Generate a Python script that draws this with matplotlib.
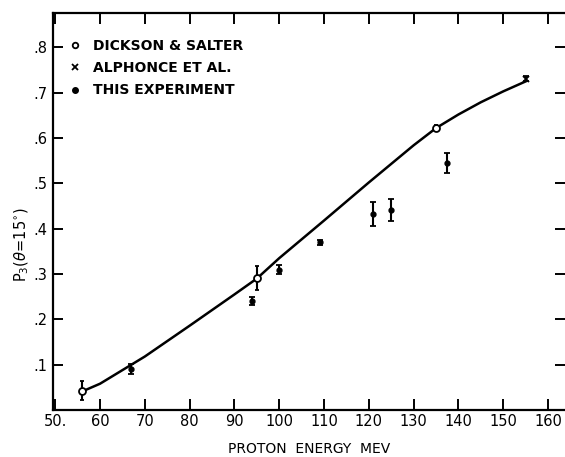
import matplotlib
matplotlib.use("Agg")
import matplotlib.pyplot as plt
from matplotlib.lines import Line2D

# ---- data ----
curve_e = [56.5, 60, 67, 70, 80, 90, 95, 100, 110, 120, 130, 135, 140, 145, 150, 155]
curve_p = [0.043, 0.058, 0.100, 0.118, 0.186, 0.255, 0.290, 0.335, 0.418, 0.502,
           0.584, 0.622, 0.652, 0.679, 0.703, 0.725]

dickson_e = [56, 95, 135]
dickson_p = [0.043, 0.291, 0.623]
dickson_err = [0.02, 0.027, 0.005]

alphonce_e = [155]
alphonce_p = [0.731]
alphonce_err = [0.006]

exp_e = [67, 94, 100, 109, 121, 125, 137.5]
exp_p = [0.090, 0.240, 0.310, 0.370, 0.433, 0.441, 0.545]
exp_err = [0.011, 0.009, 0.011, 0.006, 0.027, 0.024, 0.021]

xticks = [50, 60, 70, 80, 90, 100, 110, 120, 130, 140, 150, 160]
xticklabels = ["50.", "60", "70", "80", "90", "100", "110", "120", "130", "140", "150", "160"]
yticks = [0.1, 0.2, 0.3, 0.4, 0.5, 0.6, 0.7, 0.8]
yticklabels = [".1", ".2", ".3", ".4", ".5", ".6", ".7", ".8"]

legend_labels = ["DICKSON & SALTER", "ALPHONCE ET AL.", "THIS EXPERIMENT"]

# ---- figure ----
fig = plt.figure(figsize=(5.65, 4.57), dpi=100)
ax = fig.add_axes([53 / 565, 47 / 457, 1 - 53 / 565, 397 / 457])

ax.plot(curve_e, curve_p, color="black", lw=1.8, zorder=2)

ax.errorbar(dickson_e, dickson_p, yerr=dickson_err, fmt="o", ms=5, mfc="white",
            mec="black", mew=1.3, ecolor="black", elinewidth=1.5, capsize=1.5, zorder=3)
ax.errorbar(alphonce_e, alphonce_p, yerr=alphonce_err, fmt="x", ms=4, mec="black",
            mew=1.3, ecolor="black", elinewidth=1.5, capsize=2, zorder=3)
ax.errorbar(exp_e, exp_p, yerr=exp_err, fmt="o", ms=3.5, color="black",
            ecolor="black", elinewidth=1.5, capsize=2.2, capthick=1.3, zorder=3)

ax.set_xlim(49.5, 163.8)
ax.set_ylim(0.0, 0.876)

ax.set_xticks(xticks)
ax.set_xticklabels(xticklabels)
ax.set_yticks(yticks)
ax.set_yticklabels(yticklabels)

for s in ax.spines.values():
    s.set_linewidth(1.6)
ax.spines["right"].set_visible(False)

ax.tick_params(axis="x", direction="in", length=8, width=1.4, top=True,
               labelsize=10.5, pad=3)
ax.tick_params(axis="y", direction="in", length=7, width=1.4, right=True,
               labelsize=10.5, pad=4)

ax.set_xlabel("PROTON  ENERGY  MEV", fontsize=10, labelpad=9)
fig.text(22 / 565, 1 - 245 / 457, r"P$_3$($\theta$=15$^{\circ}$)", rotation=90,
         ha="center", va="center", fontsize=10.5)

handles = [
    Line2D([], [], ls="none", marker="o", ms=4, mfc="white", mec="black", mew=1.3),
    Line2D([], [], ls="none", marker="x", ms=4, mec="black", mew=1.3),
    Line2D([], [], ls="none", marker="o", ms=4, color="black"),
]
ax.legend(handles, legend_labels, loc="upper left", bbox_to_anchor=(0.032, 0.935),
          frameon=False, borderaxespad=0, borderpad=0, handlelength=0.8,
          handletextpad=0.9, labelspacing=0.6, prop={"size": 10, "weight": "bold"})

fig.savefig("out.png", dpi=100)
